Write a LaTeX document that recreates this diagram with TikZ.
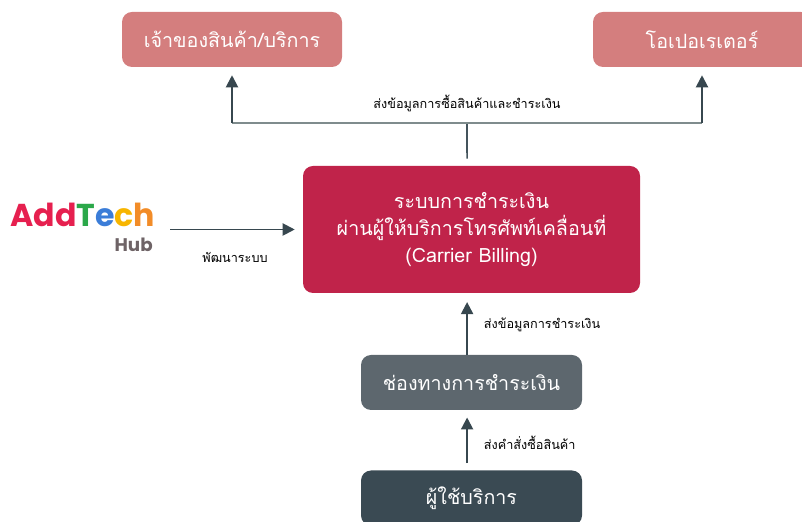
\documentclass[tikz,border=0pt]{standalone}
\usepackage{fontspec}
\usepackage{xcolor}
\newfontfamily\thaifont[Script=Thai]{Loma}
\newfontfamily\logofont{Poppins}
\definecolor{mpink}{HTML}{D47E7E}
\definecolor{mcrimson}{HTML}{C0234A}
\definecolor{mgray}{HTML}{5D676E}
\definecolor{mdark}{HTML}{3A4A53}
\definecolor{marrow}{HTML}{37474F}
\definecolor{mline}{HTML}{7F8C8D}
\definecolor{logored}{HTML}{E6204F}
\definecolor{logogreen}{HTML}{2BA84A}
\definecolor{logoblue}{HTML}{3B7DD8}
\definecolor{logoyellow}{HTML}{F7B500}
\definecolor{logoorange}{HTML}{F28C28}
\definecolor{logohub}{HTML}{6E6366}
\usepackage{tikz}
\usetikzlibrary{calc,arrows.meta}

\tikzset{
  box/.style={rounded corners=2.5mm, text=white, font=\thaifont\fontsize{14}{19}\selectfont,
    align=center, inner sep=0pt},
  flow/.style={draw=marrow, line width=1.4pt, -{Triangle[length=3mm,width=3mm]}},
  tag/.style={font=\thaifont\fontsize{9}{11}\selectfont, text=black}
}

\begin{document}
\begin{tikzpicture}[x=0.25mm, y=0.25mm]
            % Define parameters
            \def\W{221}      % Width of the small boxes
            \def\H{55}       % Height of the small boxes
            \def\ax{467}     % x of the vertical arrows
            
            % Fix the frame
            \useasboundingbox (0,0) rectangle (802,522);
            
            % Draw the two receivers on top
            \node[box, fill=mpink, minimum width=220*0.25mm, minimum height=\H*0.25mm]
              (owner) at (232,482.5) {เจ้าของสินค้า/บริการ};
            \node[box, fill=mpink, minimum width=218*0.25mm, minimum height=\H*0.25mm]
              (operator) at (702,482.5) {โอเปอเรเตอร์};
            
            % Draw the carrier billing system
            \node[box, fill=mcrimson, minimum width=337*0.25mm, minimum height=127*0.25mm]
              (billing) at (471.5,292.5) {ระบบการชำระเงิน\\ผ่านผู้ให้บริการโทรศัพท์เคลื่อนที่\\(Carrier Billing)};
            
            % Draw the payment channel and the user
            \node[box, fill=mgray, minimum width=\W*0.25mm, minimum height=\H*0.25mm]
              (gateway) at (471.5,139.5) {ช่องทางการชำระเงิน};
            \node[box, fill=mdark, minimum width=\W*0.25mm, minimum height=\H*0.25mm]
              (user) at (471.5,24) {ผู้ใช้บริการ};
            
            % Draw the logo
            \node[inner sep=0pt, anchor=base west, font=\logofont\bfseries\fontsize{22.5}{22.5}\selectfont]
              (logo) at (10,295) {\textcolor{logored}{Add}\textcolor{logogreen}{T}\textcolor{logoblue}{e}\textcolor{logoyellow}{c}\textcolor{logoorange}{h}};
            \node[inner sep=0pt, anchor=base east, text=logohub, font=\logofont\bfseries\fontsize{13}{13}\selectfont]
              (hub) at (153,270) {Hub};
            
            % Arrow from the logo to the system
            \coordinate (devstart) at (170,292.5);
            \draw[flow] (devstart) -- ([xshift=-2mm]billing.west);
            \node[tag] (devlabel) at (235,265) {พัฒนาระบบ};
            
            % Split line from the system up to both receivers
            \coordinate (J) at (\ax,399);
            \draw[draw=mdark!85!mline, line width=1.2pt] ([xshift=-1.1mm, yshift=1.8mm]billing.north) -- (J);
            \draw[draw=mline, line width=1.2pt] (owner.south |- J) -- (operator.south |- J);
            \draw[flow] (owner.south |- J) -- ([yshift=-2mm]owner.south);
            \draw[flow] (operator.south |- J) -- ([yshift=-2mm]operator.south);
            \node[tag] (buylabel) at (\ax,419) {ส่งข้อมูลการซื้อสินค้าและชำระเงิน};
            
            % Arrows up the middle
            \draw[flow] ([xshift=-1.1mm]gateway.north) -- ([xshift=-1.1mm, yshift=-2.2mm]billing.south);
            \node[tag, anchor=west] (paylabel) at (479,197) {ส่งข้อมูลการชำระเงิน};
            \draw[flow] ([xshift=-1.1mm, yshift=1.8mm]user.north) -- ([xshift=-1.1mm, yshift=-1.8mm]gateway.south);
            \node[tag, anchor=west] (orderlabel) at (479,79) {ส่งคำสั่งซื้อสินค้า};
          \end{tikzpicture}
\end{document}
